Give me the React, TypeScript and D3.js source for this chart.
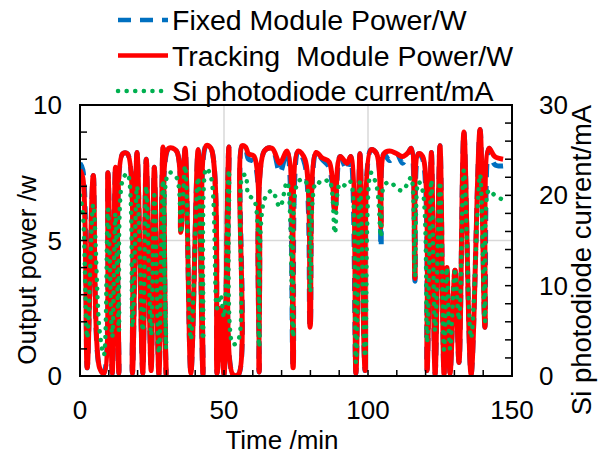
import * as d3 from 'd3';

// time in minutes for each sample
const times = [
  0, 1, 2.5, 4.6, 6.8, 8.3, 9.7, 11.2, 12.3, 13.5, 14.8, 16.5, 18.2, 19.8, 21.8, 23, 24.7, 25.8,
  27.4, 28.8, 29.9, 30.8, 33.5, 35, 36.5, 38.5, 41, 42.7, 43.8, 45.5, 47.6, 48.8, 50, 51.7, 53.1,
  55, 56.3, 57.5, 58.5, 60.5, 62.2, 64, 66.7, 69.4, 71.9, 74, 75.7, 78.1, 79.9, 82, 84, 86.5, 88.5,
  90.3, 92.7, 94, 95.8, 97.2, 99, 101, 103, 104.5, 105.5, 107.5, 110, 112, 114, 115, 116.3, 117.5,
  119, 120.5, 122, 123.3, 125, 126.4, 127.4, 128.5, 130.2, 131.6, 133.3, 135.8, 138.9, 140.6, 142,
  144, 146.9,
];

const trackingPower = [
  7.6, 7.3, 0.3, 7.4, 0.3, 0.1, 7.5, 0.1, 7.7, 0.1, 8.2, 8.2, 0.1, 8.25, 0.1, 8.0, 0.2, 7.7,
  0.05, 8.45, 0.05, 8.4, 8.3, 5.3, 8.4, 0.1, 8.35, 0.05, 8.5, 8.4, 0.1, 2.5, 0.05, 8.45, 0.05,
  0.05, 8.5, 8.45, 8.2, 8.1, 0.15, 8.3, 8.4, 7.85, 8.3, 0.3, 8.3, 8.0, 1.8, 8.25, 8.05, 7.9, 6.1,
  8.1, 7.85, 8.1, 0.1, 8.2, 0.2, 8.35, 8.2, 5.5, 8.2, 8.3, 8.2, 8.1, 8.25, 8.4, 3.6, 8.2,
  8.1, 0.2, 8.25, 0.05, 8.5, 0.05, 4.0, 0.1, 3.9, 0.5, 9.0, 0.05, 9.1, 1.8, 8.4,
  8.1, 8.0,
];

const fixedPower = [
  7.85, 7.6, 0.3, 7.4, 0.3, 0.1, 7.5, 0.1, 7.7, 0.1, 8.2, 8.2, 0.1, 8.25, 0.1, 8.0, 0.2, 7.7,
  0.05, 8.5, 0.05, 8.4, 8.3, 5.3, 8.4, 0.1, 8.35, 0.05, 8.5, 8.4, 0.1, 2.5, 0.05, 8.45, 0.05,
  0.05, 8.5, 8.4, 8.0, 7.9, 0.15, 8.3, 8.4, 7.5, 8.3, 0.3, 8.3, 7.8, 1.8, 8.25, 8.0, 7.7, 6.1,
  8.1, 7.6, 8.1, 0.1, 8.2, 0.2, 8.35, 8.2, 4.75, 8.2, 7.95, 8.2, 7.85, 8.25, 8.4, 3.5, 8.2,
  8.0, 0.2, 8.25, 0.05, 8.5, 0.05, 4.0, 0.1, 3.9, 0.5, 9.0, 0.05, 9.1, 1.8, 8.4,
  7.8, 7.75,
];

const siCurrent = [
  20, 18, 4.2, 19, 5, 2.3, 18.5, 4.3, 18, 5, 21.7, 22.4, 5.4, 21, 5, 21, 4.5, 20,
  2.5, 21.7, 3, 22.5, 22, 15.8, 23.3, 4, 22, 4, 23, 22, 7.5, 9, 6.5, 22.8, 3.5,
  4, 22, 22.3, 20, 19.5, 3.2, 19.5, 20.5, 18.7, 21.5, 4.3, 21.5, 21.7, 9.3, 21.5, 21.3, 21.7, 15.8,
  21.3, 21, 21.5, 1.5, 21.5, 2.1, 22.5, 21, 15.4, 21, 21.5, 20.8, 20.5, 21.5, 22, 11, 21.5,
  20.5, 3.7, 21.7, 5, 21.5, 2.9, 12, 3, 11.5, 6.2, 22.8, 4.2, 22.3, 6, 20.6,
  20, 19.5,
];

const xTickLabels = [0, 50, 100, 150];
const yLeftTickLabels = [0, 5, 10];
const yRightTickLabels = [0, 10, 20, 30];

const legendItems = [
  { label: 'Fixed Module Power/W', color: '#0070c0', dash: '13 9', cap: 'butt' },
  { label: 'Tracking\u00a0\u00a0Module Power/W', color: '#ff0000', dash: 'none', cap: 'butt' },
  { label: 'Si photodiode current/mA', color: '#00b050', dash: '0.1 8.5', cap: 'round' },
];

const W = 598;
const H = 455;
const left = 80;
const right = 512;
const top = 105;
const bottom = 376;
const font = '"Liberation Sans", Arial, sans-serif';

export default function App() {
  const x = d3.scaleLinear().domain([0, 150]).range([left, right]);
  const yL = d3.scaleLinear().domain([0, 10]).range([bottom, top]);
  const yR = d3.scaleLinear().domain([0, 30]).range([bottom, top]);

  const powerLine = (vals: number[]) =>
    d3
      .line<number>()
      .x((_, i) => x(times[i]))
      .y((v) => yL(v))
      .curve(d3.curveCatmullRom.alpha(0.5))(vals) || '';

  const currentLine =
    d3
      .line<number>()
      .x((_, i) => x(times[i]))
      .y((v) => yR(v))
      .curve(d3.curveCatmullRom.alpha(0.5))(siCurrent) || '';

  return (
    <svg
      width={W}
      height={H}
      style={{ position: 'absolute', left: 0, top: 0, background: '#fff' }}
      fontFamily={font}
    >
      <defs>
        <clipPath id="plot">
          <rect x={left} y={top - 2} width={right - left + 1} height={bottom - top + 3} />
        </clipPath>
      </defs>

      {/* gridlines */}
      {xTickLabels.slice(1, -1).map((t) => (
        <line key={'gx' + t} x1={x(t)} x2={x(t)} y1={top} y2={bottom} stroke="#d9d9d9" strokeWidth={1.5} />
      ))}
      {yLeftTickLabels.slice(1, -1).map((t) => (
        <line key={'gy' + t} x1={left} x2={right} y1={yL(t)} y2={yL(t)} stroke="#d9d9d9" strokeWidth={1.5} />
      ))}

      {/* series */}
      <g clipPath="url(#plot)" fill="none" strokeLinejoin="round">
        <path d={powerLine(fixedPower)} stroke="#0070c0" strokeWidth={5} strokeDasharray="13 9" />
        <path d={powerLine(trackingPower)} stroke="#ff0000" strokeWidth={5} />
        <path
          d={currentLine}
          stroke="#00b050"
          strokeWidth={4.5}
          strokeDasharray="0.1 8.5"
          strokeLinecap="round"
        />
      </g>

      {/* inward ticks */}
      {x.ticks(15).map((t) => (
        <line key={'tx' + t} x1={x(t)} x2={x(t)} y1={bottom} y2={bottom - 6} stroke="#000" strokeWidth={1.5} />
      ))}
      {yL.ticks(10).map((t) => (
        <line key={'tl' + t} x1={left} x2={left + 7} y1={yL(t)} y2={yL(t)} stroke="#000" strokeWidth={1.5} />
      ))}
      {yR.ticks(15).map((t) => (
        <line key={'tr' + t} x1={right} x2={right - 7} y1={yR(t)} y2={yR(t)} stroke="#000" strokeWidth={1.5} />
      ))}

      {/* frame */}
      <rect x={left} y={top} width={right - left} height={bottom - top} fill="none" stroke="#000" strokeWidth={2} />

      {/* tick labels */}
      {xTickLabels.map((t) => (
        <text key={'lx' + t} x={x(t)} y={419} textAnchor="middle" fontSize={26}>
          {t}
        </text>
      ))}
      {yLeftTickLabels.map((t) => (
        <text key={'ll' + t} x={62} y={yL(t) + 9} textAnchor="end" fontSize={26}>
          {t}
        </text>
      ))}
      {yRightTickLabels.map((t) => (
        <text key={'lr' + t} x={539} y={yR(t) + 9} textAnchor="start" fontSize={26}>
          {t}
        </text>
      ))}

      {/* axis titles */}
      <text x={282} y={449} textAnchor="middle" fontSize={26}>
        Time /min
      </text>
      <text transform={`translate(36, 270) rotate(-90)`} textAnchor="middle" fontSize={26}>
        Output power /w
      </text>
      <text transform={`translate(591, 260) rotate(-90)`} textAnchor="middle" fontSize={27.5}>
        Si photodiode current/mA
      </text>

      {/* legend */}
      {legendItems.map((d, i) => {
        const ly = 20 + i * 35.5;
        return (
          <g key={d.label}>
            <line
              x1={118}
              x2={168}
              y1={ly}
              y2={ly}
              stroke={d.color}
              strokeWidth={4.5}
              strokeDasharray={d.dash}
              strokeLinecap={d.cap as 'butt' | 'round'}
            />
            <text x={172} y={ly + 10} fontSize={28.5}>
              {d.label}
            </text>
          </g>
        );
      })}
    </svg>
  );
}
